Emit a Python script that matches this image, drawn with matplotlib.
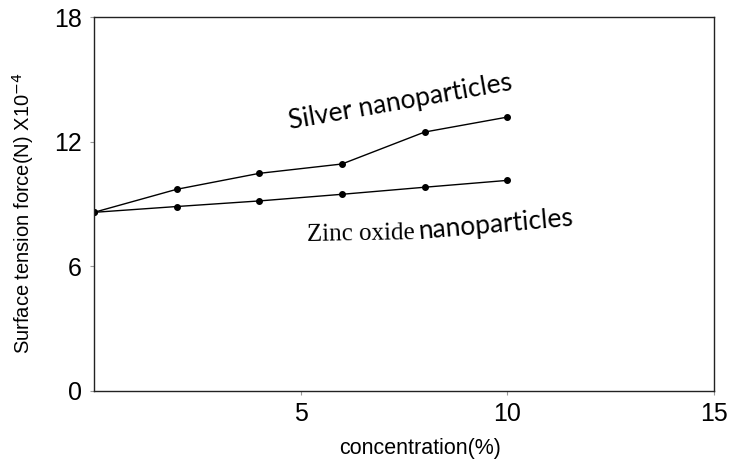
import matplotlib.pyplot as plt

# concentration (%) and surface tension force (N x 1e-4)
conc = [0, 2, 4, 6, 8, 10]
silver = [8.6, 9.71, 10.48, 10.93, 12.47, 13.19]
zinc = [8.6, 8.88, 9.15, 9.47, 9.81, 10.14]

x_ticks = [5, 10, 15]
y_ticks = [0, 6, 12, 18]

plt.rcParams['font.family'] = ['Liberation Sans', 'DejaVu Sans']

fig = plt.figure(figsize=(7.31, 4.63), dpi=100)
ax = fig.add_axes([0.1286, 0.156, 0.848, 0.8066])

ax.plot(conc, silver, color='black', lw=1.0, marker='o', markersize=4)
ax.plot(conc, zinc, color='black', lw=1.0, marker='o', markersize=4)

ax.set_xlim(0, 15)
ax.set_ylim(0, 18)
ax.set_xticks(x_ticks)
ax.set_yticks(y_ticks)
ax.tick_params(axis='both', direction='out', length=3, color='#999999',
               labelsize=18)
ax.tick_params(axis='x', pad=5)
ax.tick_params(axis='y', pad=6)
for s in ax.spines.values():
    s.set_linewidth(1.0)
    s.set_color('#222222')

ax.set_xlabel('concentration(%)', fontsize=15.5)
ax.xaxis.set_label_coords(0.526, -0.127)
ax.set_ylabel('Surface tension force(N) X10$^{-4}$', fontsize=14.5)
ax.yaxis.set_label_coords(-0.094, 0.476)

ax.text(4.74, 12.62, 'Silver nanoparticles', family='Lato', fontsize=19,
        rotation=10, rotation_mode='anchor', ha='left', va='baseline')
ax.text(5.16, 7.2, 'Zinc oxide', family='Liberation Serif', fontsize=18,
        rotation=1, rotation_mode='anchor', ha='left', va='baseline')
ax.text(7.86, 7.3, 'nanoparticles', family='Lato', fontsize=19,
        rotation=5, rotation_mode='anchor', ha='left', va='baseline')

fig.savefig('out.png', dpi=100)
